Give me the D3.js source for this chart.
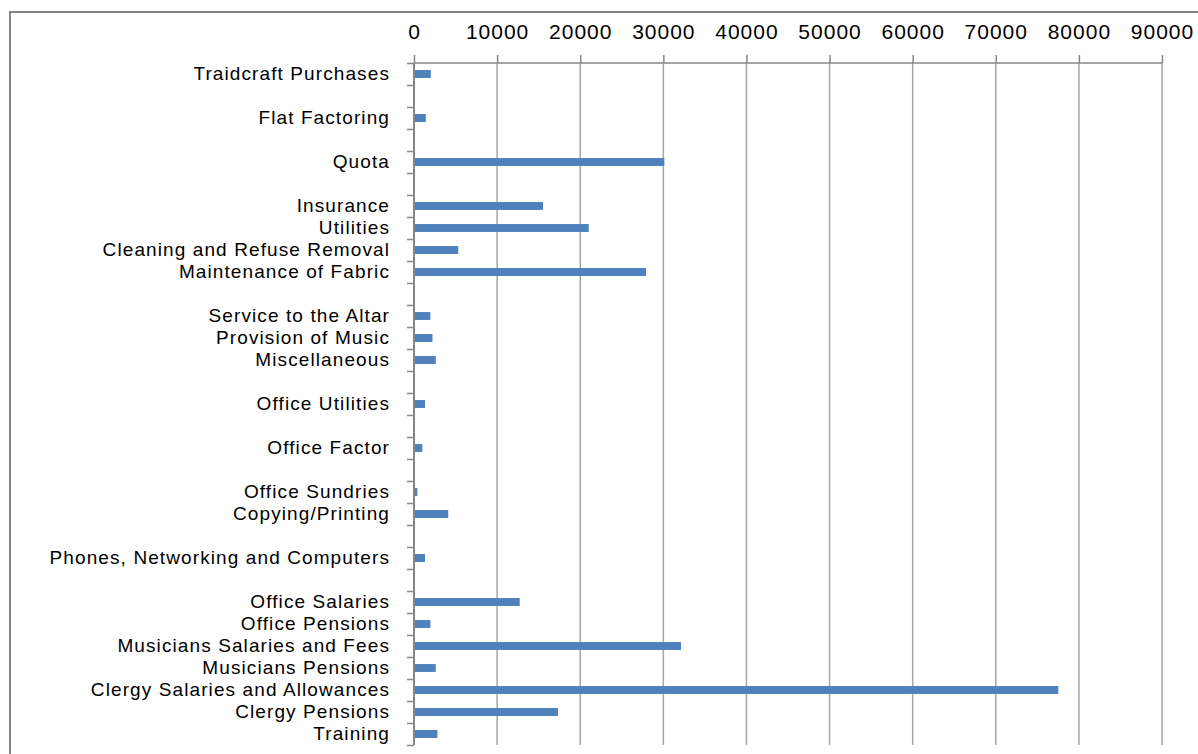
<!DOCTYPE html>
<html>
<head>
<meta charset="utf-8">
<script src="https://cdn.jsdelivr.net/npm/d3@7"></script>
<style>
  body { margin: 0; background: #fff; }
  svg { display: block; font-family: "Liberation Sans", Arial, sans-serif; }
  .axis text { fill: #000; }
  .axis path, .axis line { stroke: #868686; }
</style>
</head>
<body>
<svg width="1198" height="754"></svg>
<script>
// categories top to bottom, "" = empty slot in the source sheet
var categories = [
  "Traidcraft Purchases", "", "Flat Factoring", "", "Quota", "",
  "Insurance", "Utilities", "Cleaning and Refuse Removal", "Maintenance of Fabric", "",
  "Service to the Altar", "Provision of Music", "Miscellaneous", "",
  "Office Utilities", "", "Office Factor", "",
  "Office Sundries", "Copying/Printing", "",
  "Phones, Networking and Computers", "",
  "Office Salaries", "Office Pensions", "Musicians Salaries and Fees", "Musicians Pensions",
  "Clergy Salaries and Allowances", "Clergy Pensions", "Training"
];
var values = [
  1900, null, 1300, null, 30000, null,
  15400, 20900, 5200, 27800, null,
  1850, 2100, 2500, null,
  1200, null, 880, null,
  280, 4000, null,
  1200, null,
  12600, 1850, 32000, 2500,
  77400, 17200, 2700
];
var xTicks = [0, 10000, 20000, 30000, 40000, 50000, 60000, 70000, 80000, 90000];

/* chart container */
var svg = d3.select("svg"),
    margin = {top: 63, left: 414},
    width = 748,
    height = 682,
    g = svg.append("g").attr("transform",
        "translate(" + margin.left + "," + margin.top + ")");

// outer chart frame (runs off the picture to the right and bottom)
svg.append("rect")
    .attr("x", 10).attr("y", 12)
    .attr("width", 1250).attr("height", 800)
    .attr("fill", "none")
    .attr("stroke", "#868686")
    .attr("stroke-width", 2);

var slots = categories.map(function(d, i) { return i; });

var x = d3.scaleLinear().domain([0, 90000]).range([0, width]),
    y = d3.scaleBand().domain(slots).range([0, height]).paddingInner(0.64).paddingOuter(0.32),
    yEdge = d3.scaleLinear().domain([0, categories.length]).range([0, height]);

/* gridlines */
g.append("g")
    .attr("class", "grid")
    .selectAll("line")
    .data(xTicks.slice(1))
    .enter().append("line")
    .attr("x1", function(d) { return x(d); })
    .attr("x2", function(d) { return x(d); })
    .attr("y1", 0)
    .attr("y2", height)
    .attr("stroke", "#a6a6a6")
    .attr("stroke-width", 1.5);

/* x axis on top */
var xAxis = g.append("g")
    .attr("class", "axis axis--x")
    .call(d3.axisTop(x).tickValues(xTicks).tickSize(8).tickPadding(16).tickFormat(d3.format("d")));
xAxis.selectAll("text").style("font-size", "21px").style("letter-spacing", "1px");
xAxis.select(".domain").attr("d", "M0,0H" + width).attr("stroke-width", 1.5);
xAxis.selectAll(".tick line").attr("stroke", "#a6a6a6").attr("stroke-width", 1.5);

/* y axis: slot boundary ticks */
var yTicks = g.append("g")
    .attr("class", "axis axis--y")
    .call(d3.axisLeft(yEdge).tickValues(d3.range(categories.length + 1)).tickSize(7).tickFormat(""));
yTicks.select(".domain").attr("d", "M0,0V" + height).attr("stroke-width", 2);
yTicks.selectAll(".tick line").attr("stroke-width", 1.5);

/* y axis: category labels */
var yLabels = g.append("g")
    .attr("class", "axis axis--labels")
    .call(d3.axisLeft(y).tickSize(0).tickPadding(24).tickFormat(function(i) { return categories[i]; }));
yLabels.select(".domain").remove();
yLabels.selectAll("text").style("font-size", "19px").style("letter-spacing", "1.1px");

/* bars */
g.selectAll(".bar")
    .data(values.map(function(v, i) { return {slot: i, value: v}; })
        .filter(function(d) { return d.value != null; }))
    .enter().append("rect")
    .attr("class", "bar")
    .attr("x", 1)
    .attr("y", function(d) { return y(d.slot); })
    .attr("width", function(d) { return x(d.value); })
    .attr("height", y.bandwidth())
    .attr("fill", "#4f81bd");
</script>
</body>
</html>
